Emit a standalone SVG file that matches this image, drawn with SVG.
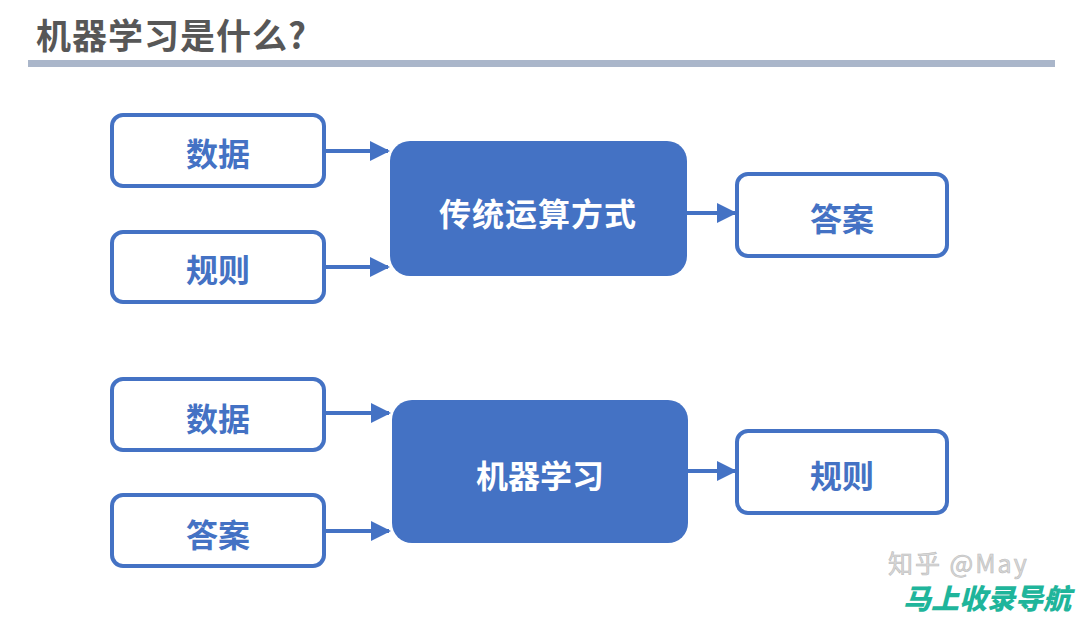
<svg xmlns="http://www.w3.org/2000/svg" width="1080" height="618" viewBox="0 0 1080 618">
<style>
.cjk{font-family:"Noto Sans CJK SC","Noto Sans",sans-serif;font-weight:bold;}
.ob{fill:#fff;stroke:#4472c4;stroke-width:4;}
.fb{fill:#4472c4;}
.ot{fill:#4472c4;font-size:32px;text-anchor:middle;dominant-baseline:central;}
.ft{fill:#fff;font-size:32px;text-anchor:middle;dominant-baseline:central;}
.ln{stroke:#4472c4;stroke-width:4;fill:none;marker-end:url(#ah);}
</style>
<defs>
<marker id="ah" markerWidth="5" markerHeight="5" refX="4.5" refY="2.5" orient="auto" markerUnits="strokeWidth">
<path d="M0,0 L5,2.5 L0,5 Z" fill="#4472c4"/>
</marker>
</defs>
<rect width="1080" height="618" fill="#fff"/>
<text x="36" y="49" class="cjk" font-size="35" fill="#575757" letter-spacing="1">机器学习是什么?</text>
<rect x="28" y="60" width="1027" height="7" fill="#aab6ca"/>
<g id="connectors">
<line class="ln" x1="325" y1="151" x2="388" y2="151"/>
<line class="ln" x1="325" y1="267" x2="388" y2="267"/>
<line class="ln" x1="687" y1="213" x2="735" y2="213"/>
<line class="ln" x1="325" y1="413" x2="389" y2="413"/>
<line class="ln" x1="325" y1="531" x2="389" y2="531"/>
<line class="ln" x1="688" y1="471" x2="735" y2="471"/>
</g>
<g id="n_data1"><rect class="ob" x="112" y="115" width="212" height="71" rx="11"/><text class="cjk ot" x="218" y="152">数据</text></g>
<g id="n_rule1"><rect class="ob" x="112" y="232" width="212" height="70" rx="11"/><text class="cjk ot" x="218" y="268">规则</text></g>
<g id="n_trad"><rect class="fb" x="390" y="141" width="297" height="135" rx="20"/><text class="cjk ft" x="538" y="212" letter-spacing="1">传统运算方式</text></g>
<g id="n_ans1"><rect class="ob" x="737" y="174" width="210" height="82" rx="11"/><text class="cjk ot" x="842" y="217">答案</text></g>
<g id="n_data2"><rect class="ob" x="112" y="379" width="212" height="71" rx="11"/><text class="cjk ot" x="218" y="417">数据</text></g>
<g id="n_ans2"><rect class="ob" x="112" y="495" width="212" height="71" rx="11"/><text class="cjk ot" x="218" y="533">答案</text></g>
<g id="n_ml"><rect class="fb" x="392" y="400" width="296" height="143" rx="20"/><text class="cjk ft" x="540" y="474">机器学习</text></g>
<g id="n_rule2"><rect class="ob" x="737" y="431" width="210" height="82" rx="11"/><text class="cjk ot" x="842" y="474">规则</text></g>
<text x="888" y="573" font-family="Noto Sans CJK SC,Noto Sans,sans-serif" font-size="25" fill="#d8d8d8" stroke="#bbb" stroke-width="0.6" letter-spacing="2">知乎 @May</text>
<text x="903" y="609" font-family="Noto Sans CJK SC,Noto Sans,sans-serif" font-weight="900" font-style="italic" font-size="28" fill="#1fb59b">马上收录导航</text>
</svg>
